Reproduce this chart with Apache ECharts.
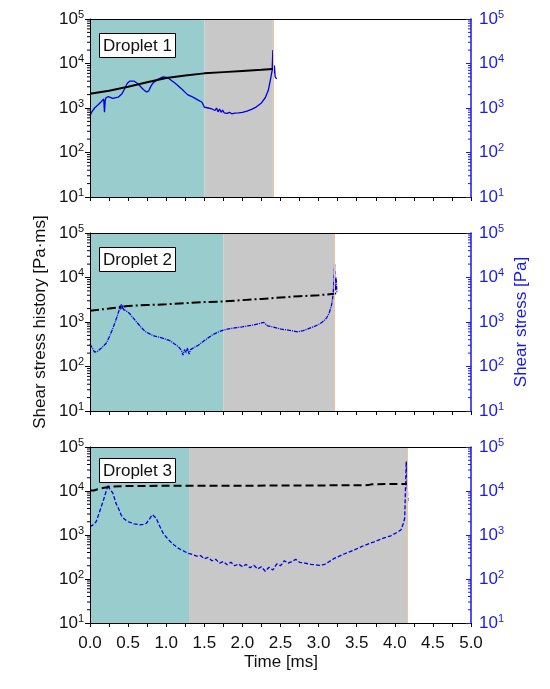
<!DOCTYPE html>
<html>
<head>
<meta charset="utf-8">
<script src="https://cdn.jsdelivr.net/npm/echarts@6/dist/echarts.min.js"></script>
<style>
html,body{margin:0;padding:0;background:#fff;}
#chart{width:550px;height:689px;}
</style>
</head>
<body>
<div id="chart"></div>
<script>
// ---------- DATA ----------
const dropletNames = ['Droplet 1', 'Droplet 2', 'Droplet 3'];
const tealEnd = [1.5, 1.75, 1.3];      // end of first phase [ms]
const greyEnd = [2.4, 3.21, 4.16];     // end of second phase [ms]
const xTicks = [0, 5, 0.5];            // min, max, interval [ms]
const yRange = [10, 100000];
const logMinorMult = [2, 3, 4, 5, 6, 7, 8, 9];
const logDecades = [10, 100, 1000, 10000];

// Droplet 1
const hist1T = [0, 0.25, 0.5, 0.75, 1.0, 1.25, 1.5, 1.75, 2.0, 2.25, 2.4];
const hist1V = [2100, 2450, 3000, 3800, 4700, 5350, 6000, 6400, 6800, 7200, 7500];
const str1T = [0, 0.02, 0.06, 0.1, 0.15, 0.18, 0.19, 0.2, 0.21, 0.24, 0.3, 0.37, 0.42, 0.45, 0.49, 0.52, 0.58, 0.62, 0.65, 0.7, 0.74, 0.77, 0.8, 0.83, 0.89, 0.96, 1.02, 1.11, 1.2, 1.28, 1.35, 1.42, 1.47, 1.5, 1.55, 1.6, 1.62, 1.64, 1.66, 1.68, 1.7, 1.72, 1.74, 1.76, 1.78, 1.8, 1.83, 1.86, 1.9, 1.95, 2.0, 2.06, 2.12, 2.18, 2.25, 2.3, 2.34, 2.37, 2.39, 2.4, 2.41, 2.42, 2.43, 2.45];
const str1V = [650, 800, 1000, 1150, 1400, 1600, 800, 1500, 1700, 1800, 1650, 1750, 2100, 2600, 3600, 4000, 4000, 3600, 3200, 2600, 2300, 2400, 3100, 3700, 4400, 5000, 4800, 3700, 2700, 2000, 1750, 1500, 1350, 1050, 1000, 950, 1050, 880, 1000, 820, 950, 800, 900, 780, 850, 760, 800, 740, 770, 780, 800, 850, 930, 1050, 1300, 1700, 2500, 4500, 7000, 20000, 6000, 9000, 5000, 4500];

// Droplet 2
const hist2T = [0, 0.25, 0.5, 0.75, 1.0, 1.25, 1.5, 1.75, 2.0, 2.25, 2.5, 2.75, 3.0, 3.2, 3.23];
const hist2V = [1800, 2000, 2300, 2400, 2500, 2650, 2800, 2900, 3100, 3300, 3550, 3800, 4000, 4300, 4400];
const str2T = [0, 0.03, 0.06, 0.1, 0.15, 0.21, 0.25, 0.29, 0.33, 0.36, 0.38, 0.39, 0.4, 0.41, 0.42, 0.43, 0.44, 0.45, 0.47, 0.52, 0.6, 0.66, 0.72, 0.8, 0.85, 0.92, 0.98, 1.05, 1.11, 1.16, 1.2, 1.22, 1.24, 1.26, 1.28, 1.3, 1.32, 1.34, 1.37, 1.42, 1.48, 1.55, 1.61, 1.68, 1.75, 1.82, 1.9, 2.0, 2.07, 2.15, 2.23, 2.28, 2.33, 2.42, 2.51, 2.62, 2.73, 2.8, 2.86, 2.93, 2.99, 3.05, 3.1, 3.14, 3.17, 3.19, 3.2, 3.21, 3.22, 3.23, 3.24];
const str2V = [320, 260, 210, 220, 260, 330, 450, 650, 1000, 1400, 1800, 2300, 1900, 2500, 2000, 2400, 1900, 2100, 1800, 1550, 1050, 800, 620, 520, 480, 450, 420, 380, 320, 280, 230, 180, 240, 200, 260, 190, 240, 230, 270, 300, 360, 440, 520, 590, 660, 700, 740, 780, 820, 860, 930, 980, 820, 760, 690, 650, 600, 640, 700, 780, 860, 1000, 1200, 1600, 2400, 4000, 8000, 20000, 5000, 10000, 4500];

// Droplet 3
const hist3T = [0, 0.05, 0.1, 0.2, 0.3, 0.5, 1.0, 1.5, 2.0, 2.5, 3.0, 3.5, 3.65, 3.7, 4.0, 4.16];
const hist3V = [10200, 10300, 11000, 12000, 12700, 13000, 13100, 13150, 13200, 13300, 13400, 13500, 13600, 14300, 14400, 14500];
const str3T = [0, 0.04, 0.08, 0.11, 0.14, 0.18, 0.21, 0.24, 0.26, 0.28, 0.3, 0.34, 0.38, 0.41, 0.45, 0.5, 0.58, 0.65, 0.7, 0.74, 0.78, 0.8, 0.82, 0.84, 0.87, 0.9, 0.93, 0.96, 1.0, 1.05, 1.1, 1.15, 1.22, 1.29, 1.35, 1.4, 1.45, 1.5, 1.55, 1.6, 1.65, 1.7, 1.75, 1.8, 1.85, 1.9, 1.95, 2.0, 2.05, 2.1, 2.15, 2.2, 2.25, 2.3, 2.35, 2.4, 2.45, 2.5, 2.55, 2.6, 2.65, 2.7, 2.75, 2.82, 2.9, 2.96, 3.01, 3.08, 3.2, 3.35, 3.47, 3.6, 3.73, 3.85, 3.95, 4.03, 4.08, 4.11, 4.13, 4.14, 4.15, 4.16, 4.17, 4.18];
const str3V = [1550, 1700, 2000, 2800, 4000, 6500, 9600, 14000, 11000, 12000, 9000, 5300, 3800, 2800, 2300, 2000, 1800, 1700, 1750, 1850, 2300, 2600, 2900, 2700, 2400, 1800, 1400, 1100, 900, 720, 600, 510, 440, 380, 360, 330, 340, 290, 310, 260, 280, 230, 250, 210, 240, 200, 220, 190, 215, 180, 205, 170, 190, 150, 185, 160, 220, 200, 260, 230, 250, 280, 240, 230, 215, 210, 205, 215, 290, 380, 460, 580, 700, 850, 960, 1150, 1300, 1800, 2400, 11000, 47000, 20000, 6000, 7000];

const histT = [hist1T, hist2T, hist3T], histV = [hist1V, hist2V, hist3V];
const strT = [str1T, str2T, str3T], strV = [str1V, str2V, str3V];

// ---------- STYLE ----------
const FONT = 'Liberation Sans, Arial, sans-serif';
const BLUE = '#1a1ae6';
const LINEBLUE = '#0000e0';
const TEAL = '#99cccc';
const GREY = '#c8c8c8';
const grids = [
  {left: 90, right: 79, top: 19, height: 178},
  {left: 90, right: 79, top: 233, height: 178},
  {left: 90, right: 79, top: 447, height: 176}
];
const histDash = ['solid', [9, 3, 2, 3], [8, 4]];
const strDash = ['solid', [4, 1, 1, 1], [4, 2]];
const zip = (a, b) => a.map((x, i) => [x, b[i]]);
const minorVals = [];
logDecades.forEach(d => logMinorMult.forEach(m => minorVals.push(d * m)));

function logLabel(color) {
  return {
    color: color,
    margin: 6,
    formatter: v => '{b|10}{s|' + Math.round(Math.log10(v)) + '}',
    rich: {
      b: {fontSize: 17, fontFamily: FONT, color: color, lineHeight: 20},
      s: {fontSize: 11, fontFamily: FONT, color: color, verticalAlign: 'top', lineHeight: 12}
    }
  };
}

const xAxis = [], yAxis = [], series = [], title = [];
grids.forEach((g, i) => {
  xAxis.push({
    type: 'value', gridIndex: i, min: xTicks[0], max: xTicks[1], interval: xTicks[2], z: 10,
    axisLine: {show: true, onZero: false, lineStyle: {color: '#000', width: 1}},
    axisTick: {show: true, inside: false, length: 4, lineStyle: {color: '#000'}},
    minorTick: {show: true, splitNumber: 2, length: 4, lineStyle: {color: '#000'}},
    splitLine: {show: false},
    axisLabel: {show: i === 2, color: '#111', fontSize: 17, fontFamily: FONT, margin: 12,
      formatter: v => v.toFixed(1)}
  });
  xAxis.push({
    type: 'value', gridIndex: i, position: 'top', min: xTicks[0], max: xTicks[1], z: 10,
    axisLine: {show: true, onZero: false, lineStyle: {color: '#000', width: 1}},
    axisTick: {show: false}, axisLabel: {show: false}, splitLine: {show: false}
  });
  yAxis.push({
    type: 'log', logBase: 10, gridIndex: i, min: yRange[0], max: yRange[1], position: 'left', z: 10,
    axisLine: {show: true, onZero: false, lineStyle: {color: '#000', width: 1}},
    axisTick: {show: true, inside: false, length: 5, lineStyle: {color: '#000'}},
    splitLine: {show: false},
    axisLabel: logLabel('#111')
  });
  yAxis.push({
    type: 'log', logBase: 10, gridIndex: i, min: yRange[0], max: yRange[1], position: 'right', z: 10,
    axisLine: {show: true, onZero: false, lineStyle: {color: BLUE, width: 1.5}},
    axisTick: {show: true, inside: true, length: 5, lineStyle: {color: BLUE}},
    splitLine: {show: false},
    axisLabel: Object.assign(logLabel(BLUE), {margin: 8})
  });
  // shaded phases
  series.push({
    type: 'line', xAxisIndex: 2 * i, yAxisIndex: 2 * i, data: [], z: 1,
    silent: true, symbol: 'none',
    markArea: {
      silent: true,
      data: [
        [{xAxis: 0, itemStyle: {color: TEAL}}, {xAxis: tealEnd[i]}],
        [{xAxis: tealEnd[i], itemStyle: {color: GREY}}, {xAxis: greyEnd[i]}]
      ]
    },
    markLine: {
      silent: true, symbol: 'none', label: {show: false},
      lineStyle: {color: '#f0c29e', type: 'solid', width: 1},
      data: [{xAxis: greyEnd[i]}]
    }
  });
  // shear stress (blue, right axis)
  series.push({
    type: 'line', xAxisIndex: 2 * i, yAxisIndex: 2 * i + 1, z: 3,
    data: zip(strT[i], strV[i]), symbol: 'none', animation: false,
    lineStyle: {color: LINEBLUE, width: 1.3, type: strDash[i]}
  });
  // shear stress history (black, left axis)
  series.push({
    type: 'line', xAxisIndex: 2 * i, yAxisIndex: 2 * i, z: 4,
    data: zip(histT[i], histV[i]), symbol: 'none', animation: false,
    lineStyle: {color: '#000', width: 2, type: histDash[i]}
  });
  // log minor ticks on both y axes
  series.push({
    type: 'custom', xAxisIndex: 2 * i, yAxisIndex: 2 * i, z: 12, silent: true, clip: false,
    data: minorVals.map(v => [xTicks[0], v]),
    renderItem: (params, api) => {
      const pL = api.coord([xTicks[0], api.value(1)]);
      const pR = api.coord([xTicks[1], api.value(1)]);
      return {
        type: 'group',
        children: [
          {type: 'line', shape: {x1: pL[0] - 3, y1: pL[1], x2: pL[0], y2: pL[1]},
            style: {stroke: '#000', lineWidth: 1}},
          {type: 'line', shape: {x1: pR[0] - 3, y1: pR[1], x2: pR[0], y2: pR[1]},
            style: {stroke: BLUE, lineWidth: 1}}
        ]
      };
    }
  });
  title.push({
    text: dropletNames[i], left: 99, top: g.top + (i === 2 ? 11 : 14),
    backgroundColor: '#fff', borderColor: '#000', borderWidth: 1, padding: [4, 4, 3, 4],
    textStyle: {fontSize: 17, fontWeight: 'normal', color: '#111', fontFamily: FONT, lineHeight: 18}
  });
});

const chart = echarts.init(document.getElementById('chart'), null, {renderer: 'canvas'});
chart.setOption({
  animation: false,
  backgroundColor: '#fff',
  grid: grids,
  xAxis: xAxis,
  yAxis: yAxis,
  series: series,
  title: title,
  graphic: [
    {type: 'text', x: 40, y: 322, rotation: Math.PI / 2,
      style: {text: 'Shear stress history [Pa·ms]', font: '17px ' + FONT, fill: '#111', align: 'center', verticalAlign: 'middle'}},
    {type: 'text', x: 521, y: 322, rotation: Math.PI / 2,
      style: {text: 'Shear stress [Pa]', font: '17px ' + FONT, fill: BLUE, align: 'center', verticalAlign: 'middle'}},
    {type: 'text', x: 281, y: 662,
      style: {text: 'Time [ms]', font: '17px ' + FONT, fill: '#111', align: 'center', verticalAlign: 'middle'}}
  ]
});
</script>
</body>
</html>
